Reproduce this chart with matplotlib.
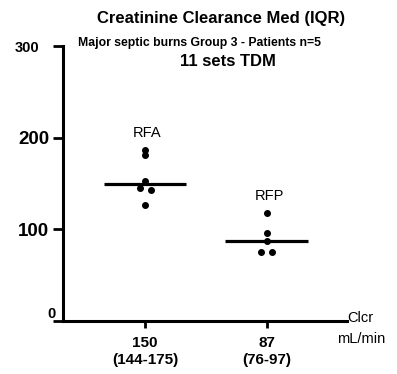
import numpy as np
import matplotlib.pyplot as plt

plt.rcParams['font.family'] = ['Liberation Sans', 'DejaVu Sans']

# data (mL/min)
groups = ['RFA', 'RFP']
rfa_vals = [187, 181, 153, 145, 143, 127]
rfa_jit = [0.0, 0.0, 0.0, -0.04, 0.05, 0.0]
rfp_vals = [118, 96, 87, 75, 75]
rfp_jit = [0.0, 0.0, 0.0, -0.045, 0.045]
medians = [150, 87]
iqr_labels = ['(144-175)', '(76-97)']
yticks = [100, 200, 300]

fig = plt.figure(figsize=(3.97, 3.74), dpi=100)
ax = fig.add_axes([0.1587, 0.1417, 0.874 - 0.1587, 0.877 - 0.1417])

pos = [1, 2]
for p, vals, jit in [(pos[0], rfa_vals, rfa_jit), (pos[1], rfp_vals, rfp_jit)]:
    ax.plot(np.array(jit) + p, vals, 'o', color='black', markersize=4, zorder=3)

for p, m in zip(pos, medians):
    ax.plot([p - 0.34, p + 0.34], [m, m], color='black', lw=2.3, solid_capstyle='butt')

# group names above points
ax.text(pos[0] + 0.02, 205, groups[0], ha='center', va='center', fontsize=10.5)
ax.text(pos[1] + 0.02, 136, groups[1], ha='center', va='center', fontsize=10.5)

ax.set_xlim(0.328, 2.656)
ax.set_ylim(0, 300)

for s in ['top', 'right']:
    ax.spines[s].set_visible(False)
for s in ['left', 'bottom']:
    ax.spines[s].set_linewidth(2.2)

ax.set_yticks([0] + yticks)
ax.set_yticklabels(['', '100', '200', '300'])
ax.tick_params(axis='y', length=7, width=2, pad=3)
labs = ax.get_yticklabels()
for lab in labs[1:3]:
    lab.set_fontsize(13.5)
    lab.set_fontweight('bold')
labs[3].set_fontsize(10.5)
labs[3].set_fontweight('bold')
labs[3].set_x(-0.035)
ax.text(-0.04, 0, '0', transform=ax.get_yaxis_transform(), ha='center', va='bottom',
        fontsize=10.5, fontweight='bold')

ax.set_xticks(pos)
ax.set_xticklabels([f'{m}\n{q}' for m, q in zip(medians, iqr_labels)],
                   fontsize=11, fontweight='bold', linespacing=1.25)
ax.tick_params(axis='x', length=5, width=2, pad=6)

ax.text(1.0, 0.01, 'Clcr', transform=ax.transAxes, ha='left', va='center', fontsize=10.5)
ax.text(1.05, -0.065, 'mL/min', transform=ax.transAxes, ha='center', va='center', fontsize=10.5)

fig.text(221 / 397, 1 - 18 / 374, 'Creatinine Clearance Med (IQR)', ha='center', va='center',
         fontsize=12, fontweight='bold')
fig.text(199 / 397, 1 - 43 / 374, 'Major septic burns Group 3 - Patients n=5', ha='center',
         va='center', fontsize=8.8, fontweight='bold')
fig.text(228 / 397, 1 - 61 / 374, '11 sets TDM', ha='center', va='center',
         fontsize=12, fontweight='bold')

fig.savefig('out.png', dpi=100)
